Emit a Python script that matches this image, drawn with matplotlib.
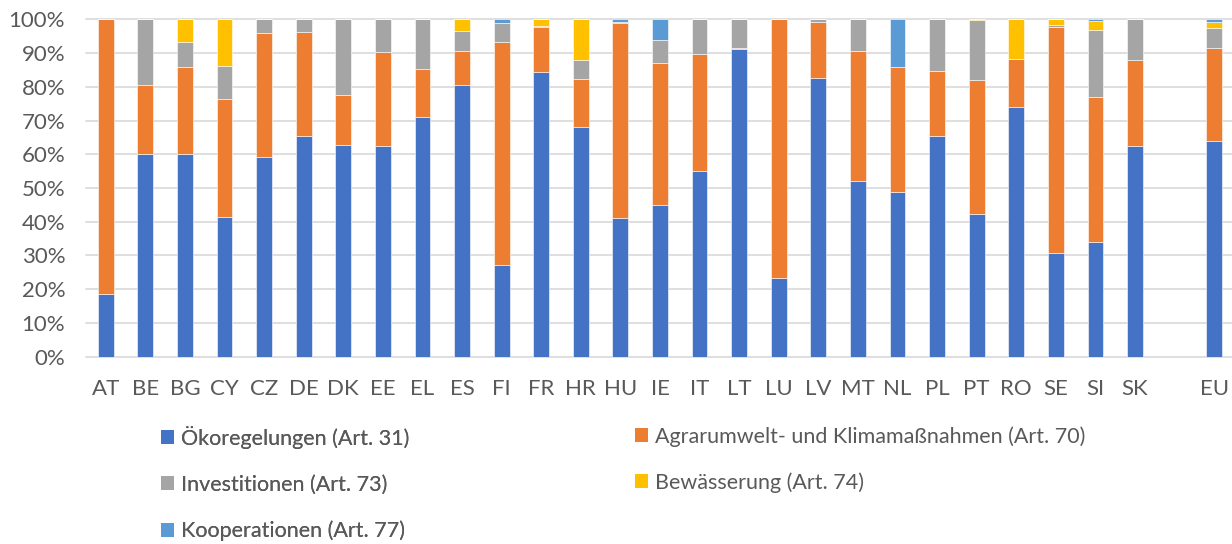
import matplotlib
matplotlib.use("Agg")
import matplotlib.pyplot as plt
from matplotlib.patches import Patch
from matplotlib.ticker import FuncFormatter
import numpy as np

plt.rcParams['font.family'] = ['Lato', 'DejaVu Sans']

countries = ["AT", "BE", "BG", "CY", "CZ", "DE", "DK", "EE", "EL", "ES", "FI", "FR", "HR",
             "HU", "IE", "IT", "LT", "LU", "LV", "MT", "NL", "PL", "PT", "RO", "SE", "SI",
             "SK", "", "EU"]

# shares (%)
oeko   = [18.6, 60.1, 60.1, 41.5, 59.1, 65.4, 62.8, 62.5, 71.1, 80.4, 27.2, 84.4, 68.2,
          41.2, 45.0, 55.1, 91.1, 23.2, 82.7, 52.1, 48.8, 65.5, 42.4, 74.1, 30.6, 33.9,
          62.5, 0.0, 63.9]
agrar  = [81.4, 20.4, 25.8, 35.0, 36.7, 30.8, 14.8, 27.9, 14.2, 10.2, 66.0, 13.2, 14.0,
          57.6, 42.0, 34.5, 0.5, 76.8, 16.6, 38.5, 37.0, 19.3, 39.5, 14.2, 67.0, 43.2,
          25.5, 0.0, 27.5]
invest = [0.0, 19.5, 7.3, 9.7, 4.2, 3.8, 22.4, 9.6, 14.7, 6.0, 5.7, 0.4, 5.8,
          0.4, 6.8, 10.4, 8.4, 0.0, 0.7, 9.4, 0.0, 15.2, 17.9, 0.0, 0.6, 19.6,
          12.0, 0.0, 6.1]
bewaes = [0.0, 0.0, 6.8, 13.8, 0.0, 0.0, 0.0, 0.0, 0.0, 3.4, 0.0, 2.0, 12.0,
          0.0, 0.0, 0.0, 0.0, 0.0, 0.0, 0.0, 0.0, 0.0, 0.2, 11.7, 1.8, 2.8,
          0.0, 0.0, 1.7]
koop   = [0.0, 0.0, 0.0, 0.0, 0.0, 0.0, 0.0, 0.0, 0.0, 0.0, 1.1, 0.0, 0.0,
          0.8, 6.2, 0.0, 0.0, 0.0, 0.0, 0.0, 14.2, 0.0, 0.0, 0.0, 0.0, 0.5,
          0.0, 0.0, 0.8]

series = [
    ("Ökoregelungen (Art. 31)", oeko, "#4472C4"),
    ("Agrarumwelt- und Klimamaßnahmen (Art. 70)", agrar, "#ED7D31"),
    ("Investitionen (Art. 73)", invest, "#A5A5A5"),
    ("Bewässerung (Art. 74)", bewaes, "#FFC000"),
    ("Kooperationen (Art. 77)", koop, "#5B9BD5"),
]

W, H = 1232, 544
fig = plt.figure(figsize=(W / 100, H / 100), dpi=100)
ax = fig.add_axes([86 / W, 187.3 / H, (1232 - 86) / W, 337.4 / H])

x = np.arange(len(countries))
valid = np.array([c != "" for c in countries])
bottom = np.zeros(len(countries))
handles = []
for name, vals, col in series:
    v = np.array(vals) / 100.0
    ax.bar(x[valid], v[valid], 0.4, bottom=bottom[valid], color=col,
           edgecolor="#FFFFFF", linewidth=0.4, zorder=3)
    bottom += v
    handles.append(Patch(facecolor=col, edgecolor="none", label=name))

ax.set_xlim(-0.5, len(countries) - 0.55)
ax.set_ylim(0, 1.0)
ax.set_yticks(np.arange(0, 1.01, 0.1))
ax.yaxis.set_major_formatter(FuncFormatter(lambda v, p: f"{v*100:.0f}%"))
ax.set_xticks(x)
ax.set_xticklabels(countries)
ax.grid(axis="y", color="#D9D9D9", linewidth=1.2, zorder=0)
for g in ax.get_ygridlines():
    g.set_clip_on(False)
for s in ax.spines.values():
    s.set_visible(False)
ax.tick_params(axis="both", length=0, labelsize=16, colors="#595959")
ax.tick_params(axis="x", pad=16)
ax.tick_params(axis="y", pad=15)

txtkw = dict(frameon=False, fontsize=15.5, labelcolor="#595959", handlelength=0.62,
             handleheight=0.62, handletextpad=0.3, labelspacing=1.2,
             borderaxespad=0, borderpad=0)
leg1 = fig.legend(handles=[handles[0], handles[2], handles[4]], loc="upper left",
                  bbox_to_anchor=(161 / W, 1 - 426 / H), **txtkw)
fig.add_artist(leg1)
leg2 = fig.legend(handles=[handles[1], handles[3]], loc="upper left",
                  bbox_to_anchor=(635 / W, 1 - 426 / H), **txtkw)

fig.savefig("out.png", dpi=100)
